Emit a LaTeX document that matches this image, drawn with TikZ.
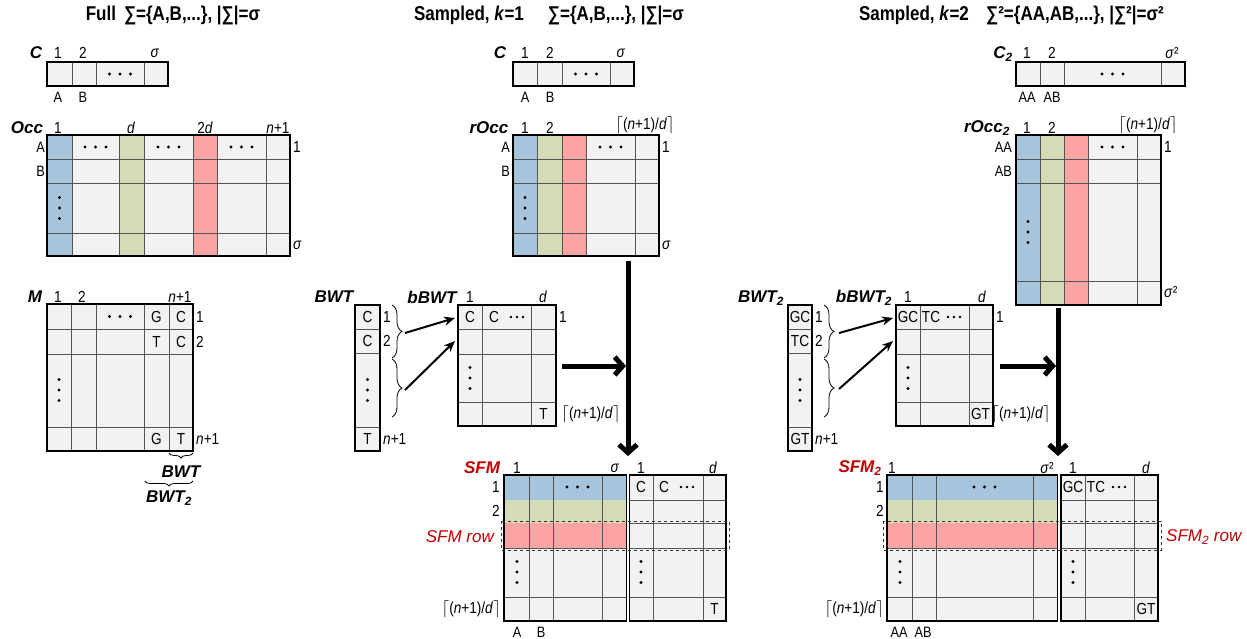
\documentclass[tikz,border=0pt]{standalone}
\usepackage{fontspec}
\setmainfont{Liberation Sans}[FakeStretch=0.85]
\newfontfamily\widefont{Liberation Sans}
\usetikzlibrary{arrows.meta}
\usetikzlibrary{decorations.pathreplacing}
\usetikzlibrary{positioning}
\usetikzlibrary{calc}

\definecolor{cellgray}{RGB}{242,242,242}
\definecolor{linegray}{RGB}{85,85,85}
\definecolor{colblue}{RGB}{167,196,221}
\definecolor{colgreen}{RGB}{212,220,182}
\definecolor{colred}{RGB}{252,164,164}
\definecolor{sfmred}{RGB}{192,0,0}

\newcommand{\ceilnd}{$\left\lceil\mbox{(\textit{n}+1)/\textit{d}}\right\rceil$}
\newcommand{\dotsh}[2]{\foreach \dx in {-1,0,1} \fill (#1+\dx*10.5,#2) circle (1.6);}
\newcommand{\dotsv}[2]{\foreach \dy in {-1,0,1} \fill (#1,#2+\dy*10.5) circle (1.6);}
\newcommand{\dotst}[2]{\foreach \dx in {-1,0,1} \fill (#1+\dx*6,#2) circle (1.4);}

\tikzset{
  gridln/.style={draw=linegray, line width=0.9pt},
  outer/.style={draw=black, line width=1.5pt},
  idx/.style={inner sep=0pt, font=\fontsize{16}{18}\selectfont},
  abl/.style={inner sep=0pt, font=\fontsize{15}{17}\selectfont},
  matname/.style={inner sep=0pt, font=\widefont\fontsize{17}{19}\selectfont\bfseries\itshape},
  ttl/.style={inner sep=0pt, font=\fontsize{20}{22}\selectfont\bfseries},
  rowtag/.style={inner sep=0pt, text=sfmred, font=\widefont\fontsize{17}{19}\selectfont\itshape},
  bigarrow/.style={line width=5pt, -{Straight Barb[length=8pt,width=18pt]}},
  linkarrow/.style={line width=2pt, -{Stealth[length=11pt,width=9pt]}},
  brc/.style={decorate, decoration={brace, amplitude=#1}, line width=0.8pt},
  sfmbox/.style={dashed, line width=0.8pt, draw=black!80}
}

\begin{document}
\begin{tikzpicture}[x=1pt, y=-1pt]
\useasboundingbox (0,0) rectangle (1247,639);

%%%%% Full
\node[ttl] (ttlfull) at (173,15) {Full\hspace{8pt}∑=\{A,B,...\}, |∑|=σ};

% C
\fill[cellgray] (47,62) rectangle (168,86);
\foreach \x in {72,96,144} \draw[gridln] (\x,62) -- (\x,86);
\draw[outer] (47,62) rectangle (168,86);
\dotsh{120}{74}
\node[matname] (cname) at (36,53) {C};
\node[idx] (ccol1) at (58,53) {1};
\node[idx] (ccol2) at (83,53) {2};
\node[idx] (ccols) at (155,53) {\textit{σ}};
\node[abl] (cchA) at (58,97) {A};
\node[abl] (cchB) at (83,97) {B};

% Occ
\fill[cellgray] (47,135) rectangle (290,256);
\fill[colblue] (47,135) rectangle (72,256);
\fill[colgreen] (119,135) rectangle (144,256);
\fill[colred] (193,135) rectangle (217,256);
\foreach \x in {72,119,144,193,217,266} \draw[gridln] (\x,135) -- (\x,256);
\foreach \y in {159,183,233} \draw[gridln] (47,\y) -- (290,\y);
\draw[outer] (47,135) rectangle (290,256);
\dotsh{95.5}{147} \dotsh{168.5}{147} \dotsh{241.5}{147}
\dotsv{59.5}{208}
\node[matname] (occname) at (27,128) {Occ};
\node[idx] (occcol1) at (58,128) {1};
\node[idx] (occcold) at (131,128) {\textit{d}};
\node[idx] (occcoltd) at (205,128) {2\textit{d}};
\node[idx] (occcoln) at (278,128) {\textit{n}+1};
\node[abl, anchor=east] (occrowA) at (45,147) {A};
\node[abl, anchor=east] (occrowB) at (45,171) {B};
\node[idx, anchor=west] (occrow1) at (293,147) {1};
\node[idx, anchor=west] (occrows) at (293,245) {\textit{σ}};

% M
\fill[cellgray] (47,304) rectangle (193,451);
\foreach \x in {71,96,144,169} \draw[gridln] (\x,304) -- (\x,451);
\foreach \y in {329,354,427} \draw[gridln] (47,\y) -- (193,\y);
\draw[outer] (47,304) rectangle (193,451);
\dotsh{120}{316.5}
\dotsv{59}{390}
\node[matname] (mname) at (35,297) {M};
\node[idx] (mcol1) at (58,297) {1};
\node[idx] (mcol2) at (82,297) {2};
\node[idx] (mcoln) at (180,297) {\textit{n}+1};
\node[idx] (mgone) at (156.5,316.5) {G};
\node[idx] (mcone) at (181,316.5) {C};
\node[idx] (mttwo) at (156.5,341.5) {T};
\node[idx] (mctwo) at (181,341.5) {C};
\node[idx] (mglast) at (156.5,439) {G};
\node[idx] (mtlast) at (181,439) {T};
\node[idx, anchor=west] (mrow1) at (196,316.5) {1};
\node[idx, anchor=west] (mrow2) at (196,341.5) {2};
\node[idx, anchor=west] (mrown) at (196,439) {\textit{n}+1};
\draw[brc=5] (193,453) -- (169,453);
\draw[brc=5] (193,481) -- (145,481);
\node[matname] (mbwt) at (181,472) {BWT};
\node[matname] (mbwttwo) at (169,498) {BWT\textsubscript{2}};

%%%%% Sampled, k=1
\node[ttl] (ttlone) at (469,15) {Sampled, \textit{k}=1};
\node[ttl] (ttlonesig) at (616,15) {∑=\{A,B,...\}, |∑|=σ};

% C
\fill[cellgray] (513,62) rectangle (634,86);
\foreach \x in {537,562,610} \draw[gridln] (\x,62) -- (\x,86);
\draw[outer] (513,62) rectangle (634,86);
\dotsh{586}{74}
\node[matname] (conename) at (500,53) {C};
\node[idx] (conecol1) at (525,53) {1};
\node[idx] (conecol2) at (550,53) {2};
\node[idx] (conecols) at (621,53) {\textit{σ}};
\node[abl] (conechA) at (525,97) {A};
\node[abl] (conechB) at (550,97) {B};

% rOcc
\fill[cellgray] (513,135) rectangle (659,256);
\fill[colblue] (513,135) rectangle (537,256);
\fill[colgreen] (537,135) rectangle (562,256);
\fill[colred] (562,135) rectangle (586,256);
\foreach \x in {537,562,586,635} \draw[gridln] (\x,135) -- (\x,256);
\foreach \y in {159,183,233} \draw[gridln] (513,\y) -- (659,\y);
\draw[outer] (513,135) rectangle (659,256);
\dotsh{610.5}{147}
\dotsv{525}{208}
\node[matname] (roccname) at (489,128) {rOcc};
\node[idx] (rocccol1) at (525,128) {1};
\node[idx] (rocccol2) at (550,128) {2};
\node[idx] (rocccoln) at (645,125) {\ceilnd};
\node[abl, anchor=east] (roccrowA) at (510,147) {A};
\node[abl, anchor=east] (roccrowB) at (510,171) {B};
\node[idx, anchor=west] (roccrow1) at (662,147) {1};
\node[idx, anchor=west] (roccrows) at (662,245) {\textit{σ}};

% BWT
\fill[cellgray] (355,305) rectangle (380,451);
\foreach \y in {329,353,427} \draw[gridln] (355,\y) -- (380,\y);
\draw[outer] (355,305) rectangle (380,451);
\dotsv{367.5}{390}
\node[matname] (bwtname) at (334,297) {BWT};
\node[idx] (bwtc1) at (367.5,317) {C};
\node[idx] (bwtc2) at (367.5,341) {C};
\node[idx] (bwtt) at (367.5,439) {T};
\node[idx, anchor=west] (bwtrow1) at (383,317) {1};
\node[idx, anchor=west] (bwtrow2) at (383,341) {2};
\node[idx, anchor=west] (bwtrown) at (383,439) {\textit{n}+1};
\draw[brc=10] (392,305) -- (392,358);
\draw[brc=10] (392,359) -- (392,417);

% bBWT
\fill[cellgray] (458,305) rectangle (556,426);
\foreach \x in {482,531} \draw[gridln] (\x,305) -- (\x,426);
\foreach \y in {329,354,402} \draw[gridln] (458,\y) -- (556,\y);
\draw[outer] (458,305) rectangle (556,426);
\dotsv{470}{378}
\dotst{517}{317}
\node[matname] (bbwtname) at (432,297) {bBWT};
\node[idx] (bbwtcol1) at (470,297) {1};
\node[idx] (bbwtcold) at (543,297) {\textit{d}};
\node[idx] (bbwtc1) at (470,317) {C};
\node[idx] (bbwtc2) at (494,317) {C};
\node[idx] (bbwtt) at (543.5,414) {T};
\node[idx] (bbwtrow1) at (563,317) {1};
\node[idx] (bbwtrown) at (591,414) {\ceilnd};

\coordinate (brtipA) at (405,333);
\coordinate (brtipB) at (405,390);
\coordinate (bbwtinA) at (455,318);
\coordinate (bbwtinB) at (455,341);
\draw[linkarrow] (brtipA) -- (bbwtinA);
\draw[linkarrow] (brtipB) -- (bbwtinB);

\coordinate (roccout) at (628,261);
\coordinate (sfmin) at (628,456);
\coordinate (bbwtout) at (562,366);
\coordinate (joinone) at (626,366);
\draw[bigarrow] (roccout) -- (sfmin);
\draw[bigarrow] (bbwtout) -- (joinone);

% SFM
\fill[cellgray] (504,475) rectangle (626.5,621);
\fill[colblue] (504,475) rectangle (626.5,500);
\fill[colgreen] (504,500) rectangle (626.5,523);
\fill[colred] (504,523) rectangle (626.5,548);
\foreach \x in {529,553,602} \draw[gridln] (\x,475) -- (\x,621);
\foreach \y in {548,597} \draw[gridln] (504,\y) -- (626.5,\y);
\draw[outer] (504,475) rectangle (626.5,621);
\dotsh{577.5}{487}
\dotsv{517}{572}
\fill[cellgray] (629.5,475) rectangle (726,621);
\foreach \x in {653,703} \draw[gridln] (\x,475) -- (\x,621);
\foreach \y in {500,523,548,597} \draw[gridln] (629.5,\y) -- (726,\y);
\draw[outer] (629.5,475) rectangle (726,621);
\dotsv{641}{572}
\dotst{687}{487}
\draw[sfmbox] (501,521) rectangle (729,550);
\node[matname, text=sfmred] (sfmname) at (482,468) {SFM};
\node[idx] (sfmcol1) at (517,468) {1};
\node[idx] (sfmcols) at (615,468) {\textit{σ}};
\node[idx] (sfmbcol1) at (641,468) {1};
\node[idx] (sfmbcold) at (713,468) {\textit{d}};
\node[idx, anchor=east] (sfmrow1) at (500,487) {1};
\node[idx, anchor=east] (sfmrow2) at (500,511) {2};
\node[rowtag, anchor=east] (sfmrowtag) at (494,537) {SFM row};
\node[idx, anchor=east] (sfmrown) at (501,609) {\ceilnd};
\node[abl] (sfmchA) at (517,632) {A};
\node[abl] (sfmchB) at (541,632) {B};
\node[idx] (sfmc1) at (641,487) {C};
\node[idx] (sfmc2) at (664,487) {C};
\node[idx] (sfmt) at (714.5,609) {T};

%%%%% Sampled, k=2
\node[ttl] (ttltwo) at (914,15) {Sampled, \textit{k}=2};
\node[ttl] (ttltwosig) at (1075,15) {∑²=\{AA,AB,...\}, |∑²|=σ²};

% C2
\fill[cellgray] (1016,62) rectangle (1185,86);
\foreach \x in {1040,1064,1161} \draw[gridln] (\x,62) -- (\x,86);
\draw[outer] (1016,62) rectangle (1185,86);
\dotsh{1112.5}{74}
\node[matname] (ctwoname) at (1003,54) {C\textsubscript{2}};
\node[idx] (ctwocol1) at (1027,53) {1};
\node[idx] (ctwocol2) at (1052,53) {2};
\node[idx] (ctwocols) at (1172,53) {\textit{σ}²};
\node[abl] (ctwochA) at (1027,97) {AA};
\node[abl] (ctwochB) at (1052,97) {AB};

% rOcc2
\fill[cellgray] (1016,135) rectangle (1161,305);
\fill[colblue] (1016,135) rectangle (1040,305);
\fill[colgreen] (1040,135) rectangle (1064,305);
\fill[colred] (1064,135) rectangle (1088,305);
\foreach \x in {1040,1064,1088,1137} \draw[gridln] (\x,135) -- (\x,305);
\foreach \y in {159,183,281} \draw[gridln] (1016,\y) -- (1161,\y);
\draw[outer] (1016,135) rectangle (1161,305);
\dotsh{1112.5}{147}
\dotsv{1028}{232}
\node[matname] (rocctwoname) at (987,128) {rOcc\textsubscript{2}};
\node[idx] (rocctwocol1) at (1027,128) {1};
\node[idx] (rocctwocol2) at (1052,128) {2};
\node[idx] (rocctwocoln) at (1148,125) {\ceilnd};
\node[abl, anchor=east] (rocctworowA) at (1012,147) {AA};
\node[abl, anchor=east] (rocctworowB) at (1012,171) {AB};
\node[idx, anchor=west] (rocctworow1) at (1164,147) {1};
\node[idx, anchor=west] (rocctworows) at (1164,292) {\textit{σ}²};

% BWT2
\fill[cellgray] (788,305) rectangle (812,451);
\foreach \y in {329,353,427} \draw[gridln] (788,\y) -- (812,\y);
\draw[outer] (788,305) rectangle (812,451);
\dotsv{800}{390}
\node[matname] (bwttwoname) at (761,298) {BWT\textsubscript{2}};
\node[idx] (bwttwogc) at (800,317) {GC};
\node[idx] (bwttwotc) at (800,341) {TC};
\node[idx] (bwttwogt) at (800,439) {GT};
\node[idx, anchor=west] (bwttworow1) at (815,317) {1};
\node[idx, anchor=west] (bwttworow2) at (815,341) {2};
\node[idx, anchor=west] (bwttworown) at (815,439) {\textit{n}+1};
\draw[brc=10] (824,305) -- (824,358);
\draw[brc=10] (824,359) -- (824,417);

% bBWT2
\fill[cellgray] (896,305) rectangle (993,426);
\foreach \x in {920,969} \draw[gridln] (\x,305) -- (\x,426);
\foreach \y in {329,354,402} \draw[gridln] (896,\y) -- (993,\y);
\draw[outer] (896,305) rectangle (993,426);
\dotsv{908}{378}
\dotst{954}{317}
\node[matname] (bbwttwoname) at (864,298) {bBWT\textsubscript{2}};
\node[idx] (bbwttwocol1) at (908,297) {1};
\node[idx] (bbwttwocold) at (982,297) {\textit{d}};
\node[idx] (bbwttwogc) at (908,317) {GC};
\node[idx] (bbwttwotc) at (931,317) {TC};
\node[idx] (bbwttwogt) at (980.5,414) {GT};
\node[idx] (bbwttworow1) at (1000,317) {1};
\node[idx] (bbwttworown) at (1021,414) {\ceilnd};

\coordinate (brtiptwoA) at (839,333);
\coordinate (brtiptwoB) at (839,389);
\coordinate (bbwttwoinA) at (893,318);
\coordinate (bbwttwoinB) at (893,341);
\draw[linkarrow] (brtiptwoA) -- (bbwttwoinA);
\draw[linkarrow] (brtiptwoB) -- (bbwttwoinB);

\coordinate (rocctwoout) at (1058,308);
\coordinate (sfmtwoin) at (1058,456);
\coordinate (bbwttwoout) at (1000,366);
\coordinate (jointwo) at (1056,366);
\draw[bigarrow] (rocctwoout) -- (sfmtwoin);
\draw[bigarrow] (bbwttwoout) -- (jointwo);

% SFM2
\fill[cellgray] (887,475) rectangle (1057.5,621);
\fill[colblue] (887,475) rectangle (1057.5,500);
\fill[colgreen] (887,500) rectangle (1057.5,523);
\fill[colred] (887,523) rectangle (1057.5,548);
\foreach \x in {912,936,1033} \draw[gridln] (\x,475) -- (\x,621);
\foreach \y in {548,597} \draw[gridln] (887,\y) -- (1057.5,\y);
\draw[outer] (887,475) rectangle (1057.5,621);
\dotsh{984.5}{487}
\dotsv{900}{572}
\fill[cellgray] (1061,475) rectangle (1158,621);
\foreach \x in {1085,1134} \draw[gridln] (\x,475) -- (\x,621);
\foreach \y in {500,523,548,597} \draw[gridln] (1061,\y) -- (1158,\y);
\draw[outer] (1061,475) rectangle (1158,621);
\dotsv{1073}{572}
\dotst{1119}{487}
\draw[sfmbox] (883,521) rectangle (1161,550);
\node[matname, text=sfmred] (sfmtwoname) at (860,468) {SFM\textsubscript{2}};
\node[idx] (sfmtwocol1) at (892,468) {1};
\node[idx] (sfmtwocols) at (1047,468) {\textit{σ}²};
\node[idx] (sfmtwobcol1) at (1073,468) {1};
\node[idx] (sfmtwobcold) at (1146,468) {\textit{d}};
\node[idx, anchor=east] (sfmtworow1) at (884,487) {1};
\node[idx, anchor=east] (sfmtworow2) at (884,511) {2};
\node[rowtag, anchor=west] (sfmtworowtag) at (1166,537) {SFM\textsubscript{2} row};
\node[idx, anchor=east] (sfmtworown) at (884,609) {\ceilnd};
\node[abl] (sfmtwochA) at (899,632) {AA};
\node[abl] (sfmtwochB) at (923,632) {AB};
\node[idx] (sfmtwogc) at (1073,487) {GC};
\node[idx] (sfmtwotc) at (1096,487) {TC};
\node[idx] (sfmtwogt) at (1146,609) {GT};
\end{tikzpicture}
\end{document}
